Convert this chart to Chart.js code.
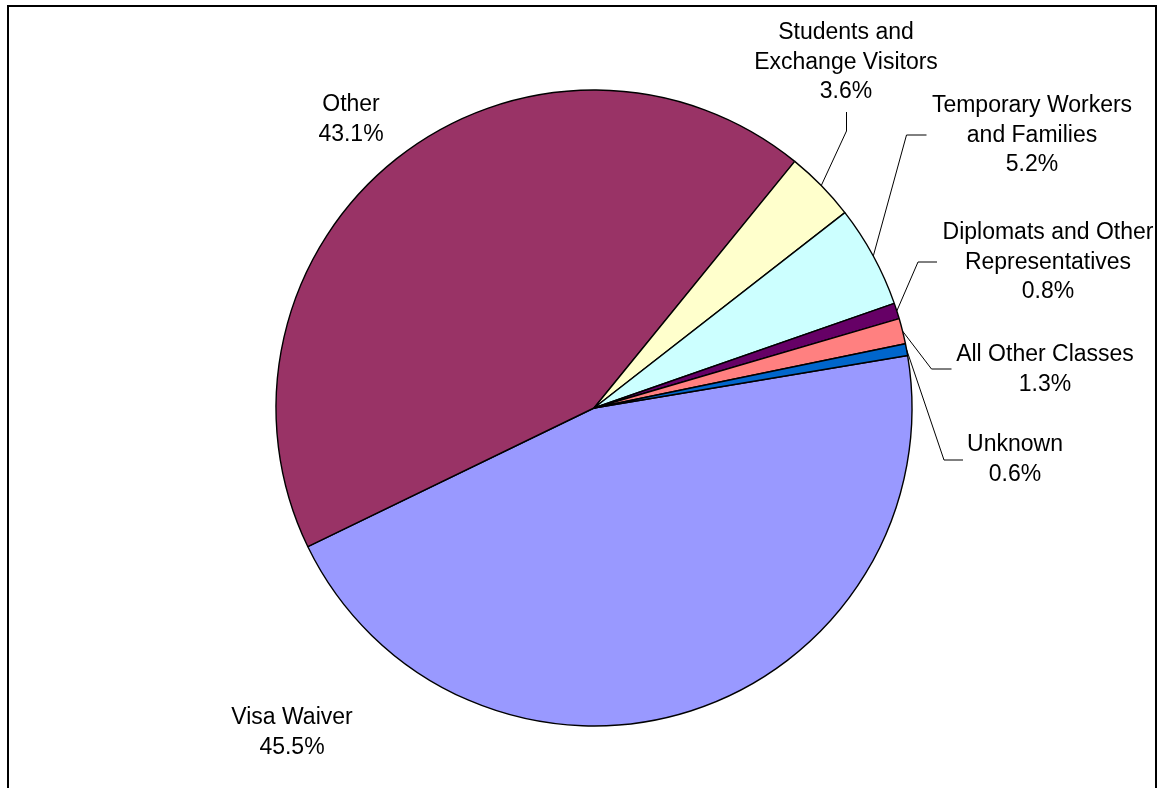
<!DOCTYPE html>
<html>
<head>
<meta charset="utf-8">
<script src="https://cdn.jsdelivr.net/npm/chart.js@4/dist/chart.umd.min.js"></script>
<style>
  html, body { margin: 0; padding: 0; background: #fff; }
  #wrap { width: 1158px; height: 788px; position: relative; }
</style>
</head>
<body>
<div id="wrap"><canvas id="pie" width="1158" height="788"></canvas></div>
<script>
// slice names, in drawing order (clockwise)
const categories = [
  "Visa Waiver",
  "Other",
  "Students and Exchange Visitors",
  "Temporary Workers and Families",
  "Diplomats and Other Representatives",
  "All Other Classes",
  "Unknown"
];
// how each name is broken onto lines in the labels
const labelLines = [
  ["Visa Waiver"],
  ["Other"],
  ["Students and", "Exchange Visitors"],
  ["Temporary Workers", "and Families"],
  ["Diplomats and Other", "Representatives"],
  ["All Other Classes"],
  ["Unknown"]
];
// share of each class, percent
const shares = [45.5, 43.1, 3.6, 5.2, 0.8, 1.3, 0.6];
const sliceColors = ["#9999FF", "#993366", "#FFFFCC", "#CCFFFF", "#660066", "#FF8080", "#0066CC"];

// where the label text sits (centre x, first line middle y) and its leader line bend points
const labelPos = [
  { x: 292, y: 718, leader: null },
  { x: 351, y: 105, leader: null },
  { x: 846, y: 33, leader: [[846.5, 131], [846.5, 112]] },
  { x: 1032, y: 106, leader: [[906.5, 135], [926.5, 135]] },
  { x: 1048, y: 233, leader: [[918, 262], [937, 262]] },
  { x: 1045, y: 355, leader: [[931.5, 369], [951.5, 369]] },
  { x: 1015, y: 445, leader: [[944, 460], [963, 460]] }
];

const labelPlugin = {
  id: "pieLabels",
  afterDraw(chart) {
    const ctx = chart.ctx;
    const arcs = chart.getDatasetMeta(0).data;
    ctx.save();
    // leader lines from the slice edge
    ctx.strokeStyle = "#000";
    ctx.lineWidth = 1;
    arcs.forEach((arc, i) => {
      const pos = labelPos[i];
      if (!pos.leader) return;
      const mid = (arc.startAngle + arc.endAngle) / 2;
      const ex = arc.x + Math.cos(mid) * arc.outerRadius;
      const ey = arc.y + Math.sin(mid) * arc.outerRadius;
      ctx.beginPath();
      ctx.moveTo(ex, ey);
      pos.leader.forEach(p => ctx.lineTo(p[0], p[1]));
      ctx.stroke();
    });
    // label text, clipped to the frame
    ctx.beginPath();
    ctx.rect(9, 7, 1146, 790);
    ctx.clip();
    ctx.fillStyle = "#000";
    ctx.font = "23px 'Liberation Sans', Arial, sans-serif";
    ctx.textAlign = "center";
    ctx.textBaseline = "middle";
    shares.forEach((v, i) => {
      const pos = labelPos[i];
      const lines = labelLines[i].concat([v.toFixed(1) + "%"]);
      lines.forEach((t, k) => ctx.fillText(t, pos.x, pos.y + k * 29.5));
    });
    ctx.restore();
    // outer frame (bottom edge is below the picture)
    ctx.save();
    ctx.strokeStyle = "#000";
    ctx.lineWidth = 2;
    ctx.strokeRect(8, 6, 1148, 800);
    ctx.restore();
  }
};

new Chart(document.getElementById("pie"), {
  type: "pie",
  data: {
    labels: categories,
    datasets: [{
      data: shares,
      backgroundColor: sliceColors,
      borderColor: "#000",
      borderWidth: 1.4,
      hoverOffset: 0
    }]
  },
  options: {
    responsive: false,
    animation: false,
    rotation: 80.5,
    radius: 318,
    layout: { padding: { left: 30, top: 28, right: 0, bottom: 0 } },
    events: [],
    plugins: {
      legend: { display: false },
      tooltip: { enabled: false }
    }
  },
  plugins: [labelPlugin]
});
</script>
</body>
</html>
